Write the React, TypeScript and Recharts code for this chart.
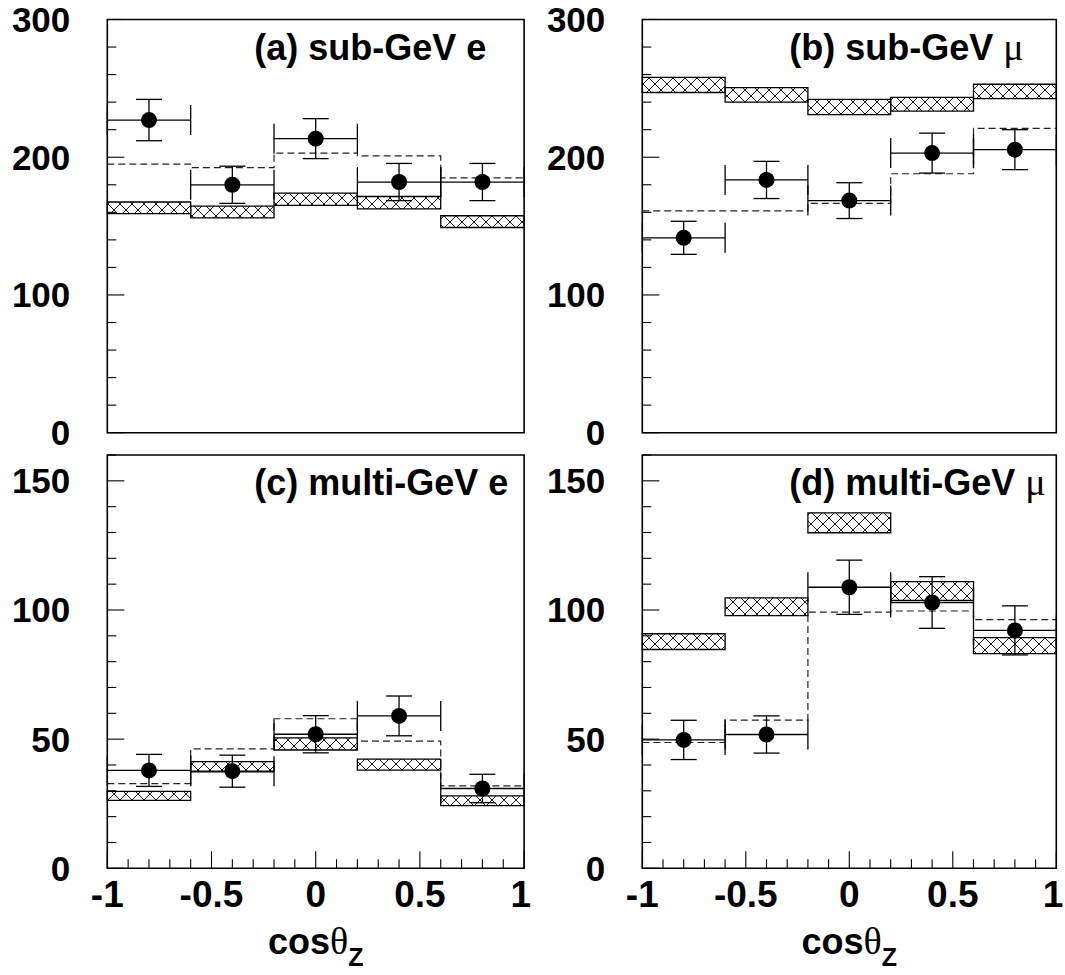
import { ComposedChart, ErrorBar, Line, ReferenceArea, Scatter, XAxis, YAxis } from "recharts";

const FONT = '"Liberation Sans", Arial, Helvetica, sans-serif';
const GREEK_FONT = '"Liberation Serif", "DejaVu Serif", serif';

// binning in cos(theta_z)
const BIN_EDGES = [-1, -0.6, -0.2, 0.2, 0.6, 1];
const BIN_CENTERS = [-0.8, -0.4, 0, 0.4, 0.8];
const BIN_HALF = [0.2, 0.2, 0.2, 0.2, 0.2];

const X_TICKS = [-1, -0.9, -0.8, -0.7, -0.6, -0.5, -0.4, -0.3, -0.2, -0.1, 0, 0.1, 0.2, 0.3, 0.4, 0.5, 0.6, 0.7, 0.8, 0.9, 1];
const X_MAJOR = [-1, -0.5, 0, 0.5, 1];
const X_LABELS = ["-1", "-0.5", "0", "0.5", "1"];

const Y_TICKS_SUB = [0, 20, 40, 60, 80, 100, 120, 140, 160, 180, 200, 220, 240, 260, 280, 300];
const Y_MAJOR_SUB = [0, 100, 200, 300];
const Y_TICKS_MULTI = [0, 10, 20, 30, 40, 50, 60, 70, 80, 90, 100, 110, 120, 130, 140, 150, 160];
const Y_MAJOR_MULTI = [0, 50, 100, 150];

// (a) sub-GeV e
const A_DATA = [227, 180, 213.5, 182, 182];
const A_ERR = [15, 13.5, 14.5, 13.5, 13.5];
const A_EXPECT = [195, 192.5, 203, 201, 185];
const A_BAND_LO = [159, 156, 165, 162.5, 149];
const A_BAND_HI = [167.5, 164.5, 174, 171.5, 157.5];

// (b) sub-GeV mu
const B_DATA = [141.5, 183.5, 168.5, 203, 205.5];
const B_ERR = [12, 13.5, 13, 14.5, 14.5];
const B_EXPECT = [161, 161, 166.5, 188, 221];
const B_BAND_LO = [247, 240, 231, 233.5, 242.5];
const B_BAND_HI = [258, 250.5, 242, 243.5, 253];

// (c) multi-GeV e
const C_DATA = [37.9, 37.6, 51.9, 59, 30.9];
const C_ERR = [6.2, 6.2, 7.2, 7.7, 5.5];
const C_EXPECT = [32.8, 46.2, 57.9, 49.2, 31.9];
const C_BAND_LO = [26.3, 37.3, 45.8, 38, 24.3];
const C_BAND_HI = [29.8, 41.3, 50.5, 42.3, 28];

// (d) multi-GeV mu
const D_DATA = [49.7, 51.8, 108.8, 102.9, 92.1];
const D_ERR = [7.6, 7.2, 10.5, 10, 9.5];
const D_EXPECT = [48.7, 57.4, 99.2, 99.6, 96.3];
const D_BAND_LO = [84.7, 97.8, 129.9, 103.7, 83.1];
const D_BAND_HI = [90.8, 104.7, 137.6, 111, 89.3];

type Frame = { l: number; t: number; r: number; b: number };
type Box = { left: number; top: number; width: number; height: number };

interface PanelSpec {
  id: string;
  title: string;
  greek?: string;
  yMax: number;
  yTicks: number[];
  yMajor: number[];
  data: number[];
  err: number[];
  expect: number[];
  bandLo: number[];
  bandHi: number[];
  frame: Frame;
  box: Box;
  showX: boolean;
}

const PANELS: PanelSpec[] = [
  {
    id: "a", title: "(a) sub-GeV e", yMax: 300, yTicks: Y_TICKS_SUB, yMajor: Y_MAJOR_SUB,
    data: A_DATA, err: A_ERR, expect: A_EXPECT, bandLo: A_BAND_LO, bandHi: A_BAND_HI,
    frame: { l: 107.3, t: 19.5, r: 524.1, b: 432.7 }, box: { left: 0, top: 0, width: 535, height: 462 }, showX: false,
  },
  {
    id: "b", title: "(b) sub-GeV ", greek: "μ", yMax: 300, yTicks: Y_TICKS_SUB, yMajor: Y_MAJOR_SUB,
    data: B_DATA, err: B_ERR, expect: B_EXPECT, bandLo: B_BAND_LO, bandHi: B_BAND_HI,
    frame: { l: 642.3, t: 19.5, r: 1056.3, b: 432.7 }, box: { left: 535, top: 0, width: 530, height: 462 }, showX: false,
  },
  {
    id: "c", title: "(c) multi-GeV e", yMax: 160, yTicks: Y_TICKS_MULTI, yMajor: Y_MAJOR_MULTI,
    data: C_DATA, err: C_ERR, expect: C_EXPECT, bandLo: C_BAND_LO, bandHi: C_BAND_HI,
    frame: { l: 107.3, t: 455, r: 524.1, b: 868.3 }, box: { left: 0, top: 440, width: 535, height: 535 }, showX: true,
  },
  {
    id: "d", title: "(d) multi-GeV ", greek: "μ", yMax: 160, yTicks: Y_TICKS_MULTI, yMajor: Y_MAJOR_MULTI,
    data: D_DATA, err: D_ERR, expect: D_EXPECT, bandLo: D_BAND_LO, bandHi: D_BAND_HI,
    frame: { l: 642.3, t: 455, r: 1056.3, b: 868.3 }, box: { left: 535, top: 440, width: 530, height: 535 }, showX: true,
  },
];

const pointsOf = (vals: number[], errs: number[]) =>
  BIN_CENTERS.map((x, i) => ({ x, y: vals[i], ey: errs[i], ex: BIN_HALF[i] }));

const stepOf = (vals: number[]) =>
  BIN_EDGES.map((x, i) => ({ x, y: vals[Math.min(i, vals.length - 1)] }));

function XTick(props: any) {
  const { x, y, payload, showLabel } = props;
  const v = Number(payload.value);
  const k = X_MAJOR.findIndex((m) => Math.abs(m - v) < 1e-6);
  const len = k >= 0 ? 17 : 9;
  // the last label sits at the page edge, so it is right-aligned just past its tick
  const last = k === X_MAJOR.length - 1;
  return (
    <g>
      <line x1={x} x2={x} y1={y} y2={y - len} stroke="#000" strokeWidth={1.1} />
      {showLabel && k >= 0 && (
        <text
          x={last ? x + 7 : x}
          y={y + 39}
          textAnchor={last ? "end" : "middle"}
          fontFamily={FONT}
          fontWeight="bold"
          fontSize={37}
          fill="#000"
        >
          {X_LABELS[k]}
        </text>
      )}
    </g>
  );
}

function YTick(props: any) {
  const { x, y, payload, major } = props;
  const v = Number(payload.value);
  const isMajor = major.includes(v);
  const len = isMajor ? 17 : 9;
  return (
    <g>
      <line x1={x} x2={x + len} y1={y} y2={y} stroke="#000" strokeWidth={1.1} />
      {isMajor && (
        <text x={x - 37} y={y + 12.5} textAnchor="end" fontFamily={FONT} fontWeight="bold" fontSize={35} fill="#000">
          {String(v)}
        </text>
      )}
    </g>
  );
}

function Panel({ spec }: { spec: PanelSpec }) {
  const { frame, box } = spec;
  const xAxisH = spec.showX ? 100 : 0;
  const margin = {
    left: frame.l - box.left - 100,
    right: box.left + box.width - frame.r,
    top: frame.t - box.top,
    bottom: box.top + box.height - frame.b - xAxisH,
  };
  const hatchId = `hatch-${spec.id}`;
  const points = pointsOf(spec.data, spec.err);
  const steps = stepOf(spec.expect);

  return (
    <div style={{ position: "absolute", left: box.left, top: box.top }}>
      <ComposedChart width={box.width} height={box.height} margin={margin}>
        <defs>
          <pattern id={hatchId} patternUnits="userSpaceOnUse" width={12} height={12}>
            <path d="M0,0 L12,12 M12,0 L0,12" stroke="#000" strokeWidth={0.9} />
          </pattern>
        </defs>
        <XAxis
          type="number"
          dataKey="x"
          domain={[-1, 1]}
          ticks={X_TICKS}
          interval={0}
          allowDataOverflow
          axisLine={false}
          tickLine={false}
          tickSize={0}
          tickMargin={0}
          height={xAxisH}
          tick={(p: any) => <XTick {...p} showLabel={spec.showX} />}
        />
        <YAxis
          type="number"
          domain={[0, spec.yMax]}
          ticks={spec.yTicks}
          interval={0}
          allowDataOverflow
          axisLine={false}
          tickLine={false}
          tickSize={0}
          tickMargin={0}
          width={100}
          tick={(p: any) => <YTick {...p} major={spec.yMajor} />}
        />
        {spec.bandLo.map((lo, i) => (
          <ReferenceArea
            key={`band-${i}`}
            x1={BIN_EDGES[i]}
            x2={BIN_EDGES[i + 1]}
            y1={lo}
            y2={spec.bandHi[i]}
            fill={`url(#${hatchId})`}
            fillOpacity={1}
            stroke="#000"
            strokeWidth={1.3}
            ifOverflow="visible"
          />
        ))}
        <Line
          data={steps}
          dataKey="y"
          type="stepAfter"
          stroke="#222"
          strokeWidth={1.2}
          strokeDasharray="7 4"
          dot={false}
          activeDot={false}
          isAnimationActive={false}
        />
        <Scatter
          data={points}
          dataKey="y"
          isAnimationActive={false}
          shape={(p: any) => <circle cx={p.cx} cy={p.cy} r={8} fill="#000" />}
        >
          <ErrorBar dataKey="ey" direction="y" width={13} stroke="#000" strokeWidth={1.3} />
          <ErrorBar dataKey="ex" direction="x" width={15} stroke="#000" strokeWidth={1.3} />
        </Scatter>
        <ReferenceArea
          x1={-1}
          x2={1}
          y1={0}
          y2={spec.yMax}
          fill="none"
          stroke="#000"
          strokeWidth={1.6}
          ifOverflow="visible"
        />
      </ComposedChart>
    </div>
  );
}

export default function App() {
  return (
    <div style={{ position: "absolute", left: 0, top: 0, width: 1065, height: 975, background: "#fff" }}>
      {PANELS.map((p) => (
        <Panel key={p.id} spec={p} />
      ))}
      <svg width={1065} height={975} style={{ position: "absolute", left: 0, top: 0, pointerEvents: "none" }}>
        {PANELS.map((p) => (
          <text
            key={`title-${p.id}`}
            x={p.frame.l + 147}
            y={p.frame.t + 40}
            fontFamily={FONT}
            fontWeight="bold"
            fontSize={36}
            fill="#000"
            style={{ whiteSpace: "pre" }}
          >
            {p.title}
            {p.greek && (
              <tspan fontFamily={GREEK_FONT} fontWeight="normal" fontSize={38}>
                {p.greek}
              </tspan>
            )}
          </text>
        ))}
        {PANELS.filter((p) => p.showX).map((p) => (
          <text
            key={`xt-${p.id}`}
            x={(p.frame.l + p.frame.r) / 2}
            y={954}
            textAnchor="middle"
            fontFamily={FONT}
            fontWeight="bold"
            fontSize={36}
            fill="#000"
          >
            cos
            <tspan fontFamily={GREEK_FONT} fontWeight="normal" fontSize={38}>θ</tspan>
            <tspan fontSize={25} dy={12}>Z</tspan>
          </text>
        ))}
      </svg>
    </div>
  );
}
